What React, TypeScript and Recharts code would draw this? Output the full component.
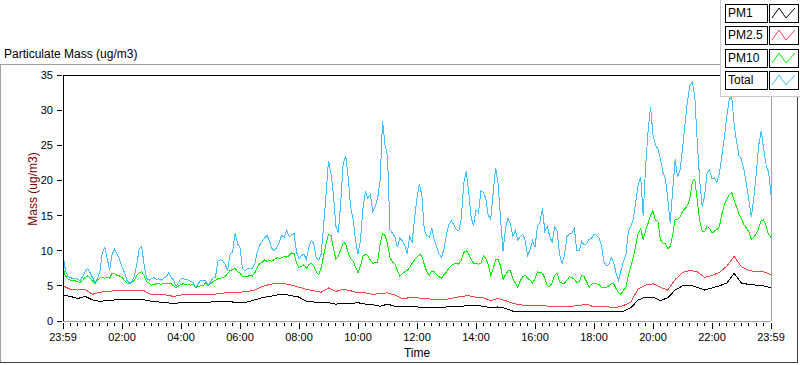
import { LineChart, Line, XAxis, YAxis, ReferenceLine, Legend } from "recharts";

// x grid: minutes after 23:59, 5 min steps for the busy series, 15 min for the smooth ones
const fineTimes = Array.from({ length: 289 }, (_, i) => i * 5);
const coarseTimes = Array.from({ length: 97 }, (_, i) => i * 15);

const xLabels = ["23:59", "02:00", "04:00", "06:00", "08:00", "10:00", "12:00", "14:00", "16:00", "18:00", "20:00", "22:00", "23:59"];
const yTicks = [0, 5, 10, 15, 20, 25, 30, 35];

const seriesNames = ["PM1", "PM2.5", "PM10", "Total"];
const seriesColors = ["#000000", "#ff4040", "#00f000", "#40bfff"];

const total = [
  9.5, 7.2, 6.3, 6.2, 6.0, 6.1, 5.9, 5.8, 6.3, 7.0, 7.5, 6.9, 6.2, 5.5, 6.0, 7.0, 9.8, 10.5, 8.8, 7.3, 9.5, 10.2, 9.5, 8.8, 7.7,
  6.9, 5.8, 5.4, 5.6, 6.4, 8.0, 10.3, 10.6, 8.0, 6.1, 5.8, 6.0, 6.2, 5.9, 6.0, 5.8, 6.1, 6.3, 6.9, 6.2, 5.8, 4.9, 5.5, 6.0,
  6.0, 5.9, 5.8, 5.6, 5.5, 4.8, 5.3, 5.8, 5.7, 5.8, 5.1, 5.6, 6.1, 6.2, 8.5, 8.7, 8.6, 8.0, 7.2, 9.6, 9.8, 12.5, 11.0, 10.4,
  7.5, 7.1, 7.5, 7.4, 7.5, 8.1, 9.8, 10.8, 11.3, 11.8, 12.2, 11.4, 10.3, 10.0, 10.5, 11.2, 12.2, 11.9, 12.9, 12.0, 12.3, 12.4, 9.8, 8.8,
  9.3, 9.5, 8.8, 10.5, 11.5, 11.0, 9.0, 8.6, 9.5, 13.5, 18.0, 22.8, 21.0, 18.0, 13.5, 12.5, 17.0, 22.5, 23.5, 20.5, 16.2, 14.5, 11.5, 9.5,
  11.5, 16.0, 18.5, 17.5, 18.0, 15.6, 16.3, 17.5, 20.0, 28.5, 25.0, 23.5, 13.0, 12.5, 12.0, 10.5, 11.8, 11.4, 10.8, 9.6, 12.0, 11.2, 14.5, 17.5,
  19.5, 17.8, 12.8, 12.2, 11.9, 13.2, 11.5, 10.6, 9.5, 9.1, 10.2, 12.3, 13.8, 14.2, 13.7, 13.0, 12.8, 14.5, 19.5, 21.3, 18.5, 14.8, 13.5, 15.8,
  15.4, 18.5, 18.3, 17.4, 15.0, 14.5, 18.3, 21.8, 19.5, 14.5, 10.0, 13.2, 14.6, 13.8, 12.0, 12.9, 11.5, 12.0, 12.3, 11.5, 9.3, 10.1, 11.4, 10.5,
  13.5, 14.0, 16.0, 12.8, 13.5, 12.0, 11.2, 13.4, 12.8, 9.4, 8.2, 9.4, 12.0, 12.4, 12.5, 13.2, 10.0, 10.0, 11.3, 10.8, 11.0, 11.6, 11.8, 12.3,
  12.2, 11.8, 10.8, 8.4, 7.9, 8.0, 9.0, 8.3, 6.8, 5.8, 7.2, 8.5, 9.5, 12.8, 13.5, 14.5, 17.0, 19.5, 20.5, 15.0, 22.0, 27.0, 30.5, 26.5,
  25.0, 24.5, 23.2, 21.2, 20.3, 17.5, 14.0, 18.5, 23.0, 20.5, 21.5, 24.5, 28.0, 31.2, 33.5, 34.0, 32.0, 25.5, 20.0, 16.3, 17.8, 21.0, 21.5, 20.2,
  20.4, 19.7, 21.0, 23.5, 26.0, 29.0, 31.5, 32.0, 28.0, 25.5, 23.5, 23.0, 21.5, 19.5, 17.2, 14.8, 17.5, 21.0, 25.0, 27.0, 24.5, 22.2, 21.2, 18.0,
];

const pm10 = [
  7.5, 6.4, 6.0, 5.8, 5.8, 5.7, 5.6, 5.5, 5.8, 6.2, 6.4, 6.1, 5.7, 5.3, 5.8, 6.1, 6.2, 6.1, 6.2, 6.1, 6.8, 6.7, 6.5, 6.4, 6.2,
  5.8, 5.4, 5.3, 5.5, 5.8, 6.5, 6.9, 7.0, 6.5, 5.6, 5.4, 5.1, 5.2, 5.3, 5.3, 5.2, 5.4, 5.3, 5.4, 5.3, 5.0, 4.7, 5.0, 5.2,
  5.3, 5.2, 5.2, 5.1, 5.2, 4.8, 4.9, 5.0, 5.0, 5.4, 5.0, 5.3, 5.6, 5.8, 6.0, 6.1, 6.2, 6.3, 6.8, 7.2, 7.3, 7.5, 7.0, 6.8,
  6.3, 6.4, 6.3, 6.5, 6.4, 6.8, 7.6, 8.2, 8.3, 8.7, 8.5, 8.6, 8.5, 8.8, 9.0, 8.9, 9.0, 9.2, 9.1, 9.3, 9.7, 9.6, 8.3, 7.6,
  7.8, 8.0, 7.5, 8.0, 8.2, 7.9, 7.0, 6.6, 7.5, 9.3, 11.0, 12.3, 12.2, 10.3, 8.8, 9.2, 10.2, 11.2, 11.0, 9.7, 8.9, 8.5, 7.7, 6.9,
  7.8, 9.2, 9.5, 9.3, 8.7, 8.2, 8.3, 8.4, 11.0, 12.4, 12.2, 11.0, 9.0, 8.4, 8.2, 7.2, 6.4, 6.7, 7.0, 7.2, 7.6, 8.2, 8.7, 9.1,
  9.5, 9.2, 8.0, 7.0, 6.5, 7.1, 7.0, 6.6, 6.3, 6.1, 6.6, 7.0, 7.5, 7.9, 8.1, 8.2, 8.1, 8.6, 9.7, 10.0, 9.6, 8.8, 8.2, 8.2,
  8.1, 8.2, 9.3, 8.9, 8.0, 6.5, 7.5, 8.7, 8.8, 7.8, 5.9, 6.6, 7.1, 7.2, 6.0, 5.4, 4.8, 5.7, 6.3, 6.5, 6.1, 5.8, 5.4, 6.0,
  7.0, 6.9, 6.8, 6.1, 5.0, 4.9, 5.5, 6.5, 6.8, 5.6, 5.4, 5.4, 5.8, 6.3, 6.2, 5.9, 5.5, 5.6, 6.5, 6.3, 5.6, 4.8, 5.2, 5.4,
  5.3, 5.2, 4.8, 4.8, 4.8, 5.0, 5.3, 5.3, 4.6, 4.0, 3.8, 4.4, 4.8, 6.5, 7.8, 9.1, 10.8, 12.5, 13.1, 11.6, 12.9, 13.9, 15.0, 15.7,
  14.3, 14.2, 11.6, 11.1, 11.0, 10.3, 10.6, 12.2, 14.5, 14.4, 14.8, 15.6, 16.0, 16.4, 17.5, 19.8, 20.2, 17.2, 14.2, 12.8, 12.7, 13.5, 13.2, 12.5,
  12.8, 13.0, 13.4, 15.2, 16.5, 17.3, 18.0, 18.3, 17.2, 16.2, 15.2, 14.5, 13.7, 13.2, 12.7, 11.6, 11.9, 12.4, 13.2, 14.3, 14.4, 13.5, 12.3, 11.9,
];

const pm25 = [
  5.0, 4.5, 4.4, 4.5, 3.8, 4.1, 4.2, 4.3, 4.3, 4.3, 4.4, 4.3, 3.7, 3.7, 3.7, 3.5, 3.7, 3.7, 3.7, 3.8, 3.7, 3.9, 4.0, 4.0, 4.1,
  4.2, 4.4, 4.9, 5.2, 5.4, 5.3, 5.1, 4.8, 4.5, 4.3, 4.1, 4.7, 4.2, 4.5, 4.3, 4.0, 4.0, 3.8, 3.9, 4.0, 3.7, 3.2, 3.3, 3.3,
  3.2, 3.1, 3.1, 3.1, 3.3, 3.5, 3.6, 3.4, 3.3, 2.9, 3.2, 2.9, 2.5, 2.3, 2.2, 2.2, 2.2, 2.1, 2.0, 2.0, 2.1, 2.2, 2.4, 2.0,
  2.0, 2.0, 1.9, 2.2, 2.7, 4.6, 5.1, 5.3, 4.8, 4.4, 5.9, 6.9, 7.2, 7.0, 6.2, 6.5, 6.9, 7.8, 9.2, 7.7, 7.2, 7.0, 7.0, 6.6,
];

const pm1 = [
  3.7, 3.5, 3.2, 3.5, 3.0, 2.8, 2.9, 3.0, 3.0, 3.0, 3.0, 3.0, 2.8, 2.7, 2.6, 2.5, 2.6, 2.6, 2.6, 2.7, 2.7, 2.8, 2.8, 2.7, 2.7,
  2.7, 3.0, 3.3, 3.5, 3.7, 3.8, 3.6, 3.4, 2.8, 2.7, 2.6, 2.6, 2.4, 2.5, 2.5, 2.6, 2.4, 2.3, 2.1, 2.4, 2.1, 2.0, 2.0, 2.0,
  1.9, 1.9, 1.9, 2.0, 2.0, 2.1, 2.2, 2.2, 2.1, 1.9, 2.0, 1.8, 1.4, 1.3, 1.4, 1.4, 1.4, 1.3, 1.3, 1.3, 1.3, 1.3, 1.3, 1.3,
  1.3, 1.3, 1.3, 1.4, 1.9, 3.0, 3.4, 3.4, 2.9, 3.3, 4.4, 5.0, 5.1, 4.8, 4.4, 4.7, 5.0, 5.4, 6.8, 5.4, 5.2, 5.1, 5.0, 4.7,
];

const toPoints = (times: number[], values: number[]) => values.map((v, i) => ({ t: times[i], v }));
const seriesData = [toPoints(coarseTimes, pm1), toPoints(coarseTimes, pm25), toPoints(fineTimes, pm10), toPoints(fineTimes, total)];

const font = "'Liberation Sans', Arial, sans-serif";

function XTick(props: any) {
  const { x, y, payload } = props;
  const m = payload.value as number;
  const major = m % 120 === 0;
  return (
    <g>
      <line x1={x} x2={x} y1={y + 2} y2={y + (major ? 8 : 5)} stroke="#000" shapeRendering="crispEdges" />
      {major && (
        <text x={x} y={y + 20} textAnchor="middle" fontSize={11} fill="#000">
          {xLabels[m / 120]}
        </text>
      )}
    </g>
  );
}

function YTick(props: any) {
  const { x, y, payload } = props;
  return (
    <g>
      <line x1={x - 6} x2={x - 1} y1={y} y2={y} stroke="#000" shapeRendering="crispEdges" />
      <text x={x - 10} y={y + 4} textAnchor="end" fontSize={11} fill="#000">
        {payload.value}
      </text>
    </g>
  );
}

function LegendBox() {
  return (
    <div style={{ position: "relative", width: 80, height: 96, fontFamily: font }}>
      {seriesNames.map((name, i) => (
        <div key={name}>
          <div
            style={{
              position: "absolute", left: 4, top: 4 + i * 22.4, width: 39, height: 17,
              border: "1px solid #000", background: "#fff", fontSize: 12, lineHeight: "17px", paddingLeft: 2,
              color: "#000", boxSizing: "content-box", whiteSpace: "nowrap", overflow: "hidden",
            }}
          >
            {name}
          </div>
          <svg style={{ position: "absolute", left: 48, top: 4 + i * 22.4 }} width={30} height={19}>
            <rect x={0.5} y={0.5} width={29} height={18} fill="#fff" stroke="#000" />
            <polyline points="3,14 10,4 17,14 26,4" fill="none" stroke={seriesColors[i]} strokeWidth={1} />
          </svg>
        </div>
      ))}
    </div>
  );
}

export default function App() {
  return (
    <div style={{ position: "absolute", left: 0, top: 0, width: 800, height: 365, background: "#fff", fontFamily: font, overflow: "hidden" }}>
      <div style={{ position: "absolute", left: 4, top: 47, fontSize: 12, color: "#000" }}>Particulate Mass (ug/m3)</div>
      <div style={{ position: "absolute", left: 0, top: 64, width: 721, height: 1, background: "#a0a0a0" }} />
      <div style={{ position: "absolute", left: 0, top: 64, width: 1, height: 299, background: "#a0a0a0" }} />
      <div style={{ position: "absolute", left: 0, top: 362, width: 798, height: 1, background: "#404040" }} />
      <div style={{ position: "absolute", left: 797, top: 95, width: 1, height: 268, background: "#404040" }} />
      <div
        style={{
          position: "absolute", left: 33, top: 189, transform: "translate(-50%, -50%) rotate(-90deg)",
          fontSize: 12, color: "#800000", whiteSpace: "nowrap",
        }}
      >
        Mass (ug/m3)
      </div>
      <LineChart width={800} height={365} margin={{ top: 75, right: 29, bottom: 4, left: 3 }}>
        <XAxis
          type="number"
          dataKey="t"
          domain={[0, 1440]}
          ticks={coarseTimes}
          interval={0}
          axisLine={false}
          tickLine={false}
          tickSize={0}
          tickMargin={0}
          tick={<XTick />}
          height={40}
          label={{ value: "Time", position: "insideBottom", offset: 4, fontSize: 12, fill: "#000" }}
        />
        <YAxis
          type="number"
          domain={[0, 35]}
          ticks={yTicks}
          interval={0}
          axisLine={false}
          tickLine={false}
          tickSize={0}
          tickMargin={0}
          tick={<YTick />}
          width={60}
        />
        {seriesNames.map((name, i) => (
          <Line
            key={name}
            name={name}
            data={seriesData[i]}
            dataKey="v"
            type="linear"
            stroke={seriesColors[i]}
            strokeWidth={1}
            dot={false}
            activeDot={false}
            shapeRendering="crispEdges"
            isAnimationActive={false}
          />
        ))}
        <ReferenceLine x={1440} stroke="#a0a0a0" shapeRendering="crispEdges" />
        <ReferenceLine y={0} stroke="#a0a0a0" shapeRendering="crispEdges" />
        <ReferenceLine x={0} stroke="#000" shapeRendering="crispEdges" />
        <ReferenceLine y={35} stroke="#000" shapeRendering="crispEdges" />
        <Legend
          layout="vertical"
          align="center"
          verticalAlign="middle"
          content={() => <LegendBox />}
          wrapperStyle={{ left: 720, top: 0, width: 80, height: 96, borderLeft: "1px solid #c8c8c8", borderBottom: "1px solid #c8c8c8", background: "#fff" }}
        />
      </LineChart>
    </div>
  );
}
